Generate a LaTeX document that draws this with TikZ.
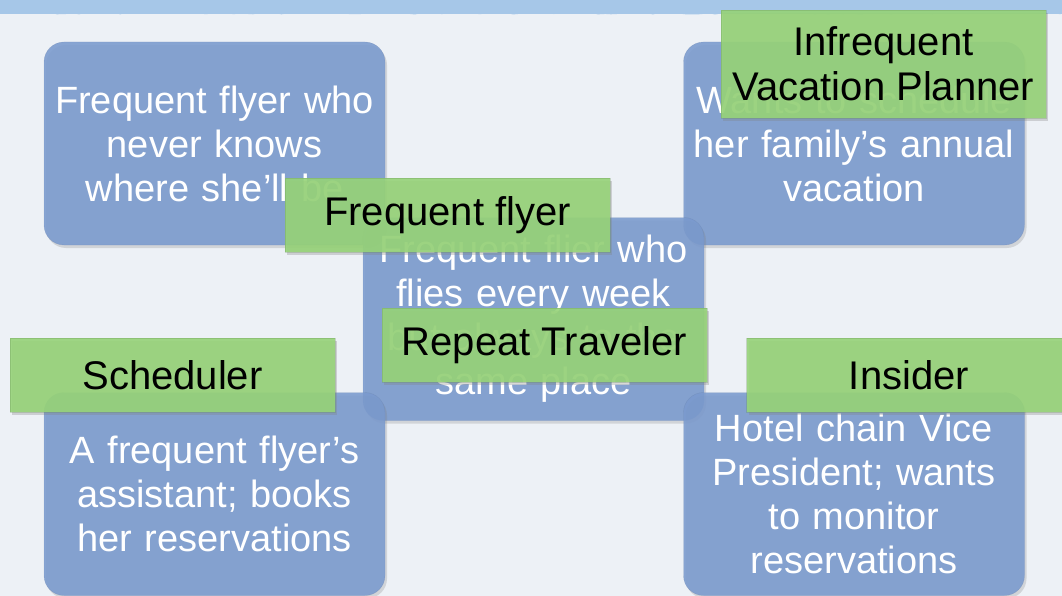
\documentclass[tikz,border=0pt]{standalone}
\usepackage{fontspec}
\setmainfont{Liberation Sans}
\usetikzlibrary{shadows,decorations.pathmorphing}
\definecolor{paper}{RGB}{237,241,246}
\definecolor{bandblue}{RGB}{166,199,232}
\definecolor{personablue}{RGB}{122,154,206}
\definecolor{taggreen}{RGB}{150,211,120}

\begin{document}
\begin{tikzpicture}[x=1pt,y=-1pt]
\tikzstyle{card}=[rectangle, rounded corners=20pt, fill=personablue, fill opacity=0.88, text opacity=1, text=white, draw=personablue!80!black, draw opacity=0.3, minimum height=203pt, text width=321pt, inner xsep=10pt, align=center, font=\fontsize{38}{44}\selectfont, drop shadow={opacity=0.25, shadow xshift=2pt, shadow yshift=-3pt}]
\tikzstyle{rolebox}=[rectangle, fill=taggreen, fill opacity=0.9, text opacity=1, text=black, draw=taggreen!70!black, draw opacity=0.3, minimum width=325pt, minimum height=74pt, align=center, font=\fontsize{40}{45}\selectfont, drop shadow={opacity=0.3, shadow xshift=2pt, shadow yshift=-3pt}]

\useasboundingbox (0,0) rectangle (1062,596);
\fill[paper] (0,0) rectangle (1062,596);
\fill[bandblue] (-5,-5) rectangle (1067,14);
\fill[bandblue] (-5,13) decorate[decoration={random steps, segment length=7pt, amplitude=1.5pt}]{-- (1067,13)} -- (1067,5) -- (-5,5) -- cycle;

% personas
\node[card] (neverknows) at (214.5,143.5) {Frequent flyer who\\ never knows\\ where she’ll be};
\node[card] (vacation) at (854,143.5) {Wants to schedule\\ her family’s annual\\ vacation};
\node[card] (sameplace) at (533.5,319) {Frequent flier who\\ flies every week\\ but always to the\\ same place};
\node[card] (assistant) at (214.5,494) {A frequent flyer’s\\ assistant; books\\ her reservations};
\node[card] (vicepres) at (854,494) {Hotel chain Vice\\ President; wants\\ to monitor\\ reservations};

% role names
\node[rolebox, minimum height=108pt] (infrequent) at (883.5,64) {Infrequent\\ Vacation Planner};
\node[rolebox] (frequent) at (447.5,215) {Frequent flyer};
\node[rolebox] (repeat) at (544.5,345) {Repeat Traveler};
\node[rolebox] (scheduler) at (172.5,375) {Scheduler};
\node[rolebox] (insider) at (909,375) {Insider};
\end{tikzpicture}
\end{document}
